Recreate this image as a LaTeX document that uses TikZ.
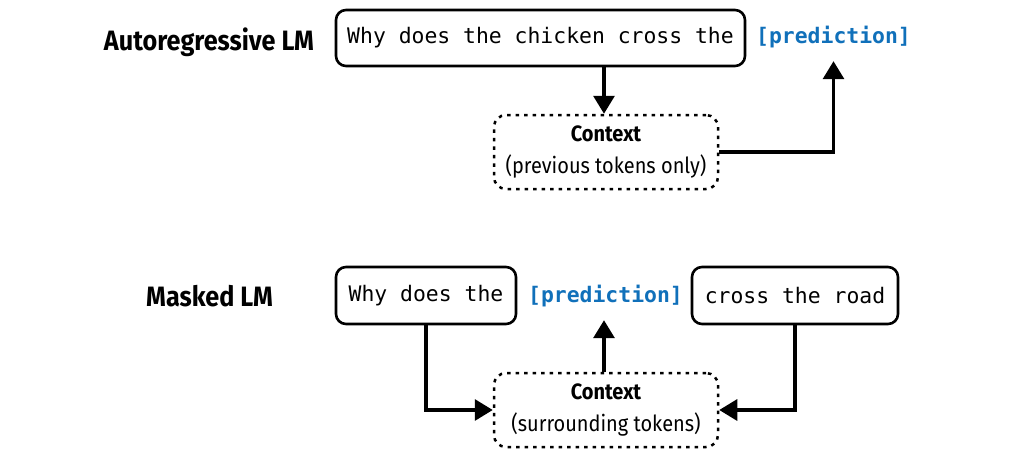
\documentclass[tikz,border=0pt]{standalone}
\usepackage{fontspec}
\setmonofont{DejaVu Sans Mono}
\newfontfamily\labfont{Fira Sans}[FakeStretch=0.9]
\usetikzlibrary{arrows.meta}
\definecolor{predblue}{RGB}{16,112,186}
\tikzset{
  tokbox/.style={draw, line width=2.6pt, rounded corners=10pt, inner sep=0pt,
    font=\ttfamily\fontsize{21.4}{25}\selectfont},
  predtok/.style={inner sep=0pt, minimum height=48pt, text=predblue,
    font=\ttfamily\bfseries\fontsize{21.4}{25}\selectfont},
  ctxbox/.style={draw, line width=2.5pt, dash pattern=on 3.5pt off 5pt, rounded corners=12pt,
    minimum width=224pt, minimum height=74pt, inner sep=0pt, align=center,
    font=\labfont\fontsize{22.2}{32}\selectfont},
  rowlabel/.style={font=\labfont\bfseries\fontsize{28}{30}\selectfont, inner sep=0pt},
  arr/.style={line width=3.2pt, -{Triangle[length=18pt,width=21pt]}},
}
\begin{document}
\begin{tikzpicture}[x=1pt,y=-1pt]
\useasboundingbox (0,0) rectangle (1018,458);
% Autoregressive
\node[rowlabel] (arlab) at (209,42) {Autoregressive LM};
\node[tokbox, minimum width=409pt, minimum height=56pt] (topbox) at (540.5,38) {Why does the chicken cross the};
\node[predtok] (pred1) at (833.5,37) {[prediction]};
\node[ctxbox] (ctx1) at (606,152) {{\bfseries Context}\\(previous tokens only)};
\draw[arr] (topbox.south -| 604,0) -- (ctx1.north -| 604,0);
\draw[arr] (ctx1.east) -| (pred1.south);
% Masked
\node[rowlabel] (mlab) at (209.5,296) {Masked LM};
\node[tokbox, minimum width=180pt, minimum height=57pt] (boxL) at (426,295.5) {Why does the};
\node[predtok] (pred2) at (605.5,296) {[prediction]};
\node[tokbox, minimum width=206pt, minimum height=57pt] (boxR) at (795,295.5) {cross the road};
\node[ctxbox] (ctx2) at (606,410) {{\bfseries Context}\\(surrounding tokens)};
\draw[arr] (boxL.south) |- (ctx2.west);
\draw[arr] (boxR.south) |- (ctx2.east);
\draw[arr] (ctx2.north -| 604,0) -- (pred2.south -| 604,0);
\end{tikzpicture}
\end{document}
